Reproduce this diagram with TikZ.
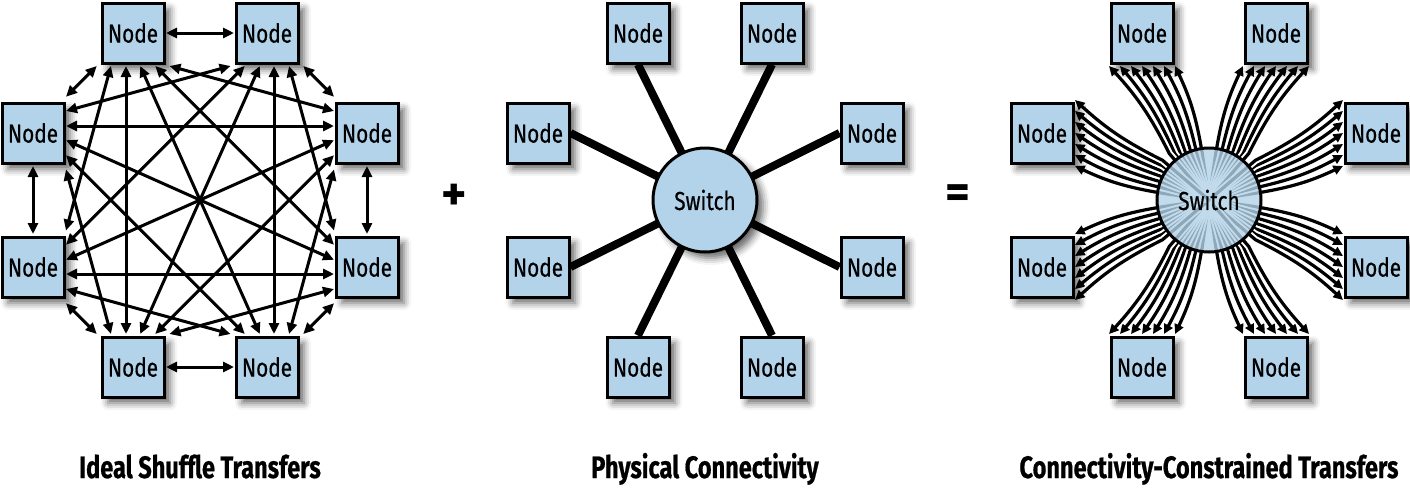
\documentclass[tikz,border=0pt]{standalone}
\usepackage{fontspec}
\setmainfont{Fira Sans}
\newfontfamily\nodefam[FakeStretch=0.8,FakeBold=0.5]{Fira Sans}
\newfontfamily\titlefam[FakeStretch=0.76,FakeBold=0.6]{Fira Sans}
\usetikzlibrary{arrows.meta,calc,shadows.blur}
\definecolor{nodeblue}{HTML}{B2D3E9}
\pgfdeclarelayer{bg}
\pgfsetlayers{bg,main}
\def\PX{{-67,67,167,167,67,-67,-167,-167}}
\def\PY{{-167,-167,-67,67,167,167,67,-67}}
\def\NX{{0,0,-1,-1,0,0,1,1}}
\def\NY{{1,1,0,0,-1,-1,0,0}}
\def\TX{{-1,1,0,0,1,-1,0,0}}
\def\TY{{0,0,-1,1,0,0,1,-1}}
\newcommand\calcend[2]{%
  \pgfmathsetmacro\cVx{\PX[#2]-\PX[#1]}%
  \pgfmathsetmacro\cVy{\PY[#2]-\PY[#1]}%
  \pgfmathsetmacro\cNx{\NX[#1]}\pgfmathsetmacro\cNy{\NY[#1]}%
  \pgfmathsetmacro\cTx{\TX[#1]}\pgfmathsetmacro\cTy{\TY[#1]}%
  \pgfmathsetmacro\cVn{\cVx*\cNx+\cVy*\cNy}%
  \pgfmathsetmacro\cVt{\cVx*\cTx+\cVy*\cTy}%
  \ifdim\cVn pt=0pt
    \pgfmathsetmacro\cEx{33*\cVx/veclen(\cVx,\cVy)}%
    \pgfmathsetmacro\cEy{33*\cVy/veclen(\cVx,\cVy)}%
  \else
    \pgfmathsetmacro\cOff{7+0.65*atan2(\cVt,\cVn)}%
    \pgfmathsetmacro\cEx{33*\cNx+\cOff*\cTx}%
    \pgfmathsetmacro\cEy{33*\cNy+\cOff*\cTy}%
  \fi}
\begin{document}
\begin{tikzpicture}[x=0.5pt,y=-0.5pt,
  shad/.style={blur shadow={shadow xshift=3pt, shadow yshift=-3pt, shadow blur radius=3.5pt, shadow opacity=60}},
  nbox/.style={draw=black, line width=1.5pt, fill=nodeblue, minimum width=31pt,
    minimum height=30pt, inner sep=0pt, font=\nodefam\fontsize{13}{15}\selectfont, shad},
  swnode/.style={circle, draw=black, line width=1.5pt, fill=nodeblue, minimum size=52pt,
    inner sep=0pt, font=\nodefam\fontsize{13}{15}\selectfont},
  dbl/.style={line width=1.5pt, {Triangle[length=5.5pt,width=5pt]}-{Triangle[length=5.5pt,width=5pt]}},
  link/.style={line width=4pt},
  flow/.style={line width=1.6pt, -{Triangle[length=4.8pt,width=4.6pt]},
    preaction={draw=white, line width=3.6pt, -, shorten >=2pt}},
  title/.style={font=\titlefam\bfseries\fontsize{15.5}{18}\selectfont, anchor=base},
  op/.style={font=\bfseries\fontsize{24}{26}\selectfont}]
\useasboundingbox (0,0) rectangle (1410,488);
% nodes of the three panels
\foreach \p/\c in {l/200, m/705, r/1209}{
  \foreach \k in {0,...,7}{
    \pgfmathsetmacro\qx{\c+\PX[\k]}
    \pgfmathsetmacro\qy{200+\PY[\k]}
    \node[nbox] (\p\k) at (\qx,\qy) {Node};
  }
}
% left panel: all-to-all transfers
\foreach \i in {0,...,7}{
  \foreach \j in {0,...,7}{
    \ifnum\j>\i
      \calcend{\i}{\j}\let\aX\cEx\let\aY\cEy
      \calcend{\j}{\i}
      \draw[dbl] ($(l\i.center)+(\aX,\aY)$) -- ($(l\j.center)+(\cEx,\cEy)$);
    \fi
  }
}
% middle panel
\node[swnode, shad] (msw) at (705,200) {Switch};
\begin{pgfonlayer}{bg}
\foreach \k/\a in {0/south,1/south,2/west,3/west,4/north,5/north,6/east,7/east}
  \draw[link] (m\k.\a) -- (msw.center);
\end{pgfonlayer}
% right panel
\node[swnode, fill opacity=0.8, draw opacity=1, text opacity=1] (rsw) at (1209,200) {Switch};
\begin{pgfonlayer}{bg}
\foreach \k/\bd in {0/right,1/left,2/right,3/left,4/right,5/left,6/right,7/left}{
  \pgfmathsetmacro\dX{\PX[\k]+33*\NX[\k]}
  \pgfmathsetmacro\dY{\PY[\k]+33*\NY[\k]}
  \pgfmathsetmacro\dL{veclen(\dX,\dY)}
  \foreach \i in {-3,...,3}{
    \pgfmathsetmacro\sX{52*\dX/\dL+\i*5.5*\TX[\k]}
    \pgfmathsetmacro\sY{52*\dY/\dL+\i*5.5*\TY[\k]}
    \pgfmathsetmacro\eX{33*\NX[\k]+\i*11*\TX[\k]}
    \pgfmathsetmacro\eY{33*\NY[\k]+\i*11*\TY[\k]}
    \draw[flow] (rsw.center) -- ($(rsw.center)+(\sX,\sY)$) to[bend \bd=8] ($(r\k.center)+(\eX,\eY)$);
  }
}
\end{pgfonlayer}
% operators
\node[op] (plus) at (454,197) {+};
\node[op] (eq) at (958,197) {=};
% titles
\node[title] (t1) at (200,478) {Ideal Shuffle Transfers};
\node[title] (t2) at (705,478) {Physical Connectivity};
\node[title] (t3) at (1209,478) {Connectivity-Constrained Transfers};
\end{tikzpicture}
\end{document}
